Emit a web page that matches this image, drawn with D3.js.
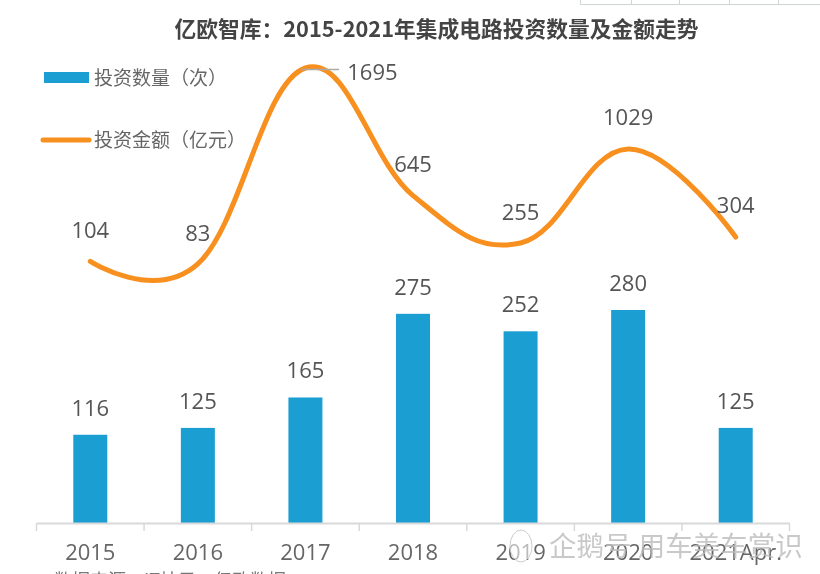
<!DOCTYPE html>
<html>
<head>
<meta charset="utf-8">
<script src="https://cdn.jsdelivr.net/npm/d3@7"></script>
<style>
  html, body { margin: 0; padding: 0; background: #fff; overflow: hidden; }
  svg { display: block; filter: blur(0.45px); }
  text { font-family: "Noto Sans CJK SC", "Open Sans", sans-serif; font-feature-settings: "chws" 0, "palt" 0; font-kerning: none; }
  .num { font-family: "Open Sans", "Noto Sans", sans-serif; }
</style>
</head>
<body>
<div id="visual"></div>
<script>
const data = [
    { year: '2015', count: 116, amount: 104, lx: 0, ly: -23 },
    { year: '2016', count: 125, amount: 83, lx: 0, ly: -23 },
    { year: '2017', count: 165, amount: 1695, lx: 67, ly: 12 },
    { year: '2018', count: 275, amount: 645, lx: 0, ly: -24 },
    { year: '2019', count: 252, amount: 255, lx: 0, ly: -23 },
    { year: '2020', count: 280, amount: 1029, lx: 0, ly: -24 },
    { year: '2021Apr.', count: 125, amount: 304, lx: 0, ly: -24 }
];

const svg = d3.select('#visual').append('svg')
    .attr('width', 820)
    .attr('height', 574);

const x = d3.scaleBand()
    .domain(data.map(d => d.year))
    .range([36.5, 789.5]);

const yCount = d3.scaleLinear().domain([0, 280]).range([523, 310]);
const yAmount = d3.scaleLinear().domain([0, 1695]).range([274, 68]);

//Leftover table edge at the top of the screenshot
svg.append('path')
    .attr('fill', 'none')
    .attr('stroke', '#cfd4d4')
    .attr('d', 'M580.5,0V4.5H820M631.5,0V4.5M679.5,0V4.5M729.5,0V4.5M778.5,0V4.5');

//Title
svg.append('text')
    .attr('x', 436.5)
    .attr('y', 37)
    .attr('text-anchor', 'middle')
    .attr('font-size', 21.75)
    .attr('font-weight', 700)
    .attr('fill', '#444')
    .text('亿欧智库：2015-2021年集成电路投资数量及金额走势');

//Legend
svg.append('rect')
    .attr('x', 44).attr('y', 72).attr('width', 45).attr('height', 11)
    .attr('fill', '#1b9fd2');
svg.append('line')
    .attr('x1', 43).attr('x2', 89).attr('y1', 140).attr('y2', 140)
    .attr('stroke', '#f8901f').attr('stroke-width', 5).attr('stroke-linecap', 'round');
svg.selectAll('.legend')
    .data([{ t: '投资数量（次）', y: 85 }, { t: '投资金额（亿元）', y: 147 }])
    .enter().append('text')
    .attr('x', 94)
    .attr('y', d => d.y)
    .attr('font-size', 19)
    .attr('fill', '#666')
    .text(d => d.t);

//Bars
svg.append('g')
    .selectAll('rect')
    .data(data)
    .enter().append('rect')
    .attr('x', d => x(d.year) + x.bandwidth() / 2 - 17)
    .attr('width', 34)
    .attr('y', d => yCount(d.count))
    .attr('height', d => yCount(0) - yCount(d.count))
    .attr('fill', '#1b9fd2');

svg.append('g')
    .selectAll('text')
    .data(data)
    .enter().append('text')
    .classed('num', true)
    .attr('x', d => x(d.year) + x.bandwidth() / 2)
    .attr('y', d => yCount(d.count) - 19)
    .attr('text-anchor', 'middle')
    .attr('font-size', 22)
    .attr('fill', '#555')
    .text(d => d.count);

//Axis
const axis = svg.append('g')
    .attr('transform', 'translate(0,523)')
    .call(d3.axisBottom(x).tickSize(0).tickPadding(21));
axis.select('.domain').attr('stroke', '#d9d9d9').attr('stroke-width', 2);
axis.selectAll('text')
    .classed('num', true)
    .attr('font-size', 22)
    .attr('fill', '#666');
axis.selectAll('.sep')
    .data(x.domain().concat(['end']))
    .enter().append('line')
    .attr('x1', d => d === 'end' ? x.range()[1] : x(d))
    .attr('x2', d => d === 'end' ? x.range()[1] : x(d))
    .attr('y1', 0)
    .attr('y2', 8)
    .attr('stroke', '#d9d9d9')
    .attr('stroke-width', 1.5);

//Line
svg.append('path')
    .datum(data)
    .attr('fill', 'none')
    .attr('stroke', '#f8901f')
    .attr('stroke-width', 5)
    .attr('stroke-linecap', 'round')
    .attr('d', d3.line()
        .x(d => x(d.year) + x.bandwidth() / 2)
        .y(d => yAmount(d.amount))
        .curve(d3.curveCardinal.tension(-0.2)));

//Leader line for the peak
svg.append('line')
    .attr('x1', 302).attr('x2', 339).attr('y1', 69.5).attr('y2', 69.5)
    .attr('stroke', '#aaa').attr('stroke-width', 1.5);

svg.append('g')
    .selectAll('text')
    .data(data)
    .enter().append('text')
    .classed('num', true)
    .attr('x', d => x(d.year) + x.bandwidth() / 2 + d.lx)
    .attr('y', d => yAmount(d.amount) + d.ly)
    .attr('text-anchor', 'middle')
    .attr('font-size', 22)
    .attr('fill', '#555')
    .text(d => d.amount);

//Source line, cut by the bottom edge
svg.append('text')
    .attr('x', 54)
    .attr('y', 587)
    .attr('font-size', 18)
    .attr('fill', '#777')
    .text('数据来源：IT桔子，亿欧数据');

//Watermark
svg.append('ellipse')
    .attr('cx', 521).attr('cy', 546).attr('rx', 11).attr('ry', 16)
    .attr('fill', '#fff').attr('fill-opacity', 0.55)
    .attr('stroke', '#ccc').attr('stroke-width', 1);
svg.append('text')
    .attr('x', 549)
    .attr('y', 556)
    .attr('font-size', 27.5)
    .attr('fill', '#bbb')
    .attr('fill-opacity', 0.8)
    .text('企鹅号 用车美车赏识');
</script>
</body>
</html>
